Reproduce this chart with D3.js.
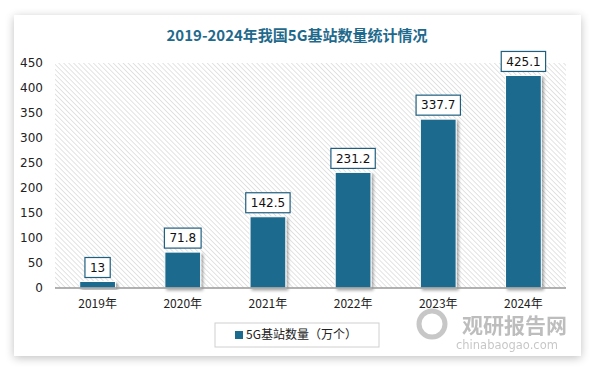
<!DOCTYPE html>
<html>
<head>
<meta charset="utf-8">
<script src="https://cdn.jsdelivr.net/npm/d3@7"></script>
<style>
  body { margin: 0; background: #fff; font-family: "Microsoft YaHei", "Noto Sans CJK SC", sans-serif; }
</style>
</head>
<body>
<div id="chart"></div>
<script>
// data
const years = ["2019年", "2020年", "2021年", "2022年", "2023年", "2024年"];
const stations = [13, 71.8, 142.5, 231.2, 337.7, 425.1];
const yTicks = [0, 50, 100, 150, 200, 250, 300, 350, 400, 450];
const seriesName = "5G基站数量（万个）";
const title = "2019-2024年我国5G基站数量统计情况";

const W = 593, H = 368;
const barColor = "#1c6a8e";
const fontCJK = "'Noto Sans CJK SC', sans-serif";

const svg = d3.select("#chart")
  .append("svg")
  .attr("width", W)
  .attr("height", H);

const defs = svg.append("defs");

// card shadow
const shadow = defs.append("filter").attr("id", "cardShadow")
  .attr("x", "-10%").attr("y", "-10%").attr("width", "120%").attr("height", "120%");
shadow.append("feGaussianBlur").attr("in", "SourceAlpha").attr("stdDeviation", 5);
shadow.append("feOffset").attr("dx", 0).attr("dy", 2).attr("result", "blur");
shadow.append("feComponentTransfer").append("feFuncA").attr("type", "linear").attr("slope", 0.25);
const m = shadow.append("feMerge");
m.append("feMergeNode");
m.append("feMergeNode").attr("in", "SourceGraphic");

// bar shadow
const bs = defs.append("filter").attr("id", "barShadow")
  .attr("x", "-20%").attr("y", "-20%").attr("width", "150%").attr("height", "140%");
bs.append("feGaussianBlur").attr("in", "SourceAlpha").attr("stdDeviation", 1.5);
bs.append("feOffset").attr("dx", 1.5).attr("dy", 1.5);
bs.append("feComponentTransfer").append("feFuncA").attr("type", "linear").attr("slope", 0.35);
const bm = bs.append("feMerge");
bm.append("feMergeNode");
bm.append("feMergeNode").attr("in", "SourceGraphic");

// hatch pattern for plot background (lines going down-right)
const hatch = defs.append("pattern").attr("id", "hatch")
  .attr("patternUnits", "userSpaceOnUse")
  .attr("width", 3.5).attr("height", 3.5)
  .attr("patternTransform", "rotate(-45)");
hatch.append("rect").attr("width", 3.5).attr("height", 3.5).attr("fill", "#fff");
hatch.append("line").attr("x1", 0).attr("y1", 0).attr("x2", 0).attr("y2", 3.5)
  .attr("stroke", "#c8c8c8").attr("stroke-width", 1);

// card
svg.append("rect")
  .attr("x", 14).attr("y", 15)
  .attr("width", 567).attr("height", 341)
  .attr("fill", "#fff")
  .attr("filter", "url(#cardShadow)");

// title
svg.append("text")
  .attr("x", 297).attr("y", 41)
  .attr("text-anchor", "middle")
  .attr("fill", "#1f6a8c")
  .attr("font-family", fontCJK)
  .attr("font-weight", "bold")
  .attr("font-size", 15)
  .text(title);

const plotL = 55, plotR = 566, plotT = 63, plotB = 288;

const x = d3.scaleBand().domain(years).range([plotL, plotR]).paddingInner(0.58).paddingOuter(0.29);
const y = d3.scaleLinear().domain([0, 450]).range([plotB, plotT]);

svg.append("rect")
  .attr("x", plotL).attr("y", plotT)
  .attr("width", plotR - plotL).attr("height", plotB - plotT)
  .attr("fill", "url(#hatch)");

// y axis
const yAxis = svg.append("g")
  .attr("transform", `translate(${plotL},0)`)
  .call(d3.axisLeft(y).tickValues(yTicks).tickSize(0).tickPadding(12));
yAxis.select(".domain").remove();
yAxis.selectAll("text")
  .attr("fill", "#222")
  .attr("font-size", 12)
  .attr("font-family", "'DejaVu Sans', sans-serif");

// bars
svg.selectAll("rect.bar")
  .data(stations)
  .enter()
  .append("rect")
  .attr("class", "bar")
  .attr("x", (d, i) => x(years[i]))
  .attr("y", d => y(d))
  .attr("width", x.bandwidth())
  .attr("height", d => plotB - y(d))
  .attr("fill", barColor)
  .attr("stroke", "#fff")
  .attr("stroke-width", 1)
  .attr("filter", "url(#barShadow)");

// x axis
const xAxis = svg.append("g")
  .attr("transform", `translate(0,${plotB})`)
  .call(d3.axisBottom(x).tickSize(0).tickPadding(11));
xAxis.select(".domain").attr("stroke", "#999").attr("stroke-width", 1.5)
  .attr("d", `M${plotL},0H${plotR}`);
xAxis.selectAll("text")
  .attr("fill", "#222")
  .attr("font-size", 12)
  .attr("font-family", fontCJK);

// value labels
const labels = svg.selectAll("g.lbl")
  .data(stations)
  .enter()
  .append("g")
  .attr("class", "lbl")
  .attr("transform", (d, i) => `translate(${x(years[i]) + x.bandwidth() / 2},${y(d) - 14})`);

labels.append("text")
  .attr("text-anchor", "middle")
  .attr("dy", "0.35em")
  .attr("fill", "#111")
  .attr("font-size", 12)
  .attr("font-family", "'DejaVu Sans', sans-serif")
  .text(d => d);

labels.each(function() {
  const g = d3.select(this);
  const bb = g.select("text").node().getBBox();
  g.insert("rect", "text")
    .attr("x", bb.x - 5).attr("y", -10)
    .attr("width", bb.width + 10).attr("height", 20)
    .attr("fill", "#fff")
    .attr("stroke", "#1f5f80")
    .attr("stroke-width", 1.2);
});

// legend
const legend = svg.append("g").attr("transform", "translate(215,323)");
legend.append("rect")
  .attr("width", 164).attr("height", 24)
  .attr("fill", "#fff")
  .attr("stroke", "#d0d0d0");
legend.append("rect")
  .attr("x", 20).attr("y", 8)
  .attr("width", 8).attr("height", 8)
  .attr("fill", barColor);
legend.append("text")
  .attr("x", 31).attr("y", 12)
  .attr("dy", "0.35em")
  .attr("fill", "#222")
  .attr("font-size", 12)
  .attr("font-family", fontCJK)
  .text(seriesName);

// watermark
const wm = svg.append("g").attr("opacity", 0.55);
wm.append("circle")
  .attr("cx", 432).attr("cy", 324).attr("r", 13)
  .attr("fill", "none").attr("stroke", "#9a9a9a").attr("stroke-width", 5);
wm.append("text")
  .attr("x", 462).attr("y", 333)
  .attr("fill", "#888")
  .attr("font-weight", "bold")
  .attr("font-size", 21)
  .attr("font-family", fontCJK)
  .text("观研报告网");
wm.append("text")
  .attr("x", 456).attr("y", 349)
  .attr("fill", "#999")
  .attr("font-size", 11.5)
  .attr("font-family", "'DejaVu Sans', sans-serif")
  .text("chinabaogao.com");
</script>
</body>
</html>
